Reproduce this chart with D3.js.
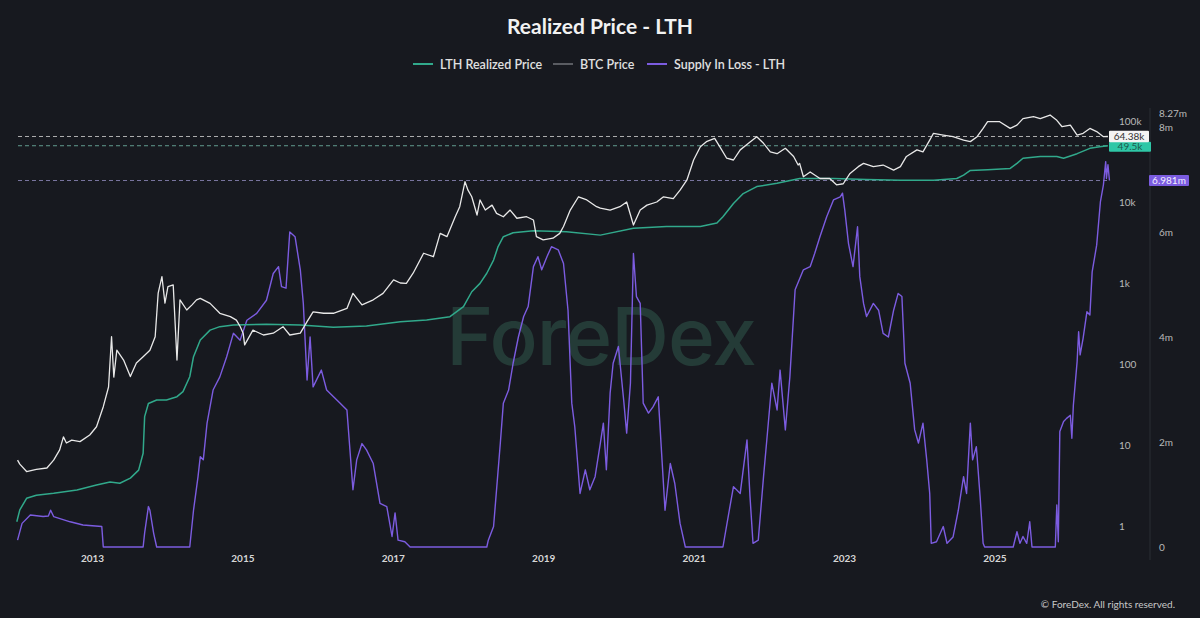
<!DOCTYPE html>
<html><head><meta charset="utf-8">
<script src="https://cdn.jsdelivr.net/npm/d3@7"></script>
<style>
html,body{margin:0;padding:0;background:#17191f;}
svg{display:block;font-family:Lato,Inter,"Noto Sans",sans-serif;}
</style>
</head><body>
<svg id="chart" width="1200" height="618"></svg>
<script>
// ---------- DATA (decimal year, value) ----------
const btcPrice = [[2012.01,6.5],[2012.04,5.8],[2012.13,4.7],[2012.26,5.0],[2012.40,5.2],[2012.49,6.5],[2012.57,8.7],[2012.62,12.6],[2012.66,10.6],[2012.73,11.5],[2012.84,11.0],[2012.97,13.3],[2013.06,16.8],[2013.15,29.7],[2013.22,52],[2013.26,217],[2013.29,69],[2013.33,148],[2013.42,112],[2013.51,70],[2013.59,103],[2013.68,123],[2013.77,148],[2013.84,217],[2013.88,750],[2013.93,1197],[2013.97,565],[2014.01,900],[2014.08,945],[2014.13,112],[2014.17,620],[2014.26,464],[2014.33,537],[2014.39,620],[2014.44,646],[2014.57,560],[2014.70,423],[2014.84,384],[2014.92,348],[2014.97,290],[2015.01,240],[2015.03,172],[2015.14,262],[2015.28,228],[2015.41,240],[2015.54,289],[2015.63,228],[2015.77,240],[2015.86,333],[2015.94,440],[2016.08,423],[2016.21,423],[2016.39,485],[2016.47,745],[2016.59,537],[2016.74,620],[2016.87,745],[2017.01,1090],[2017.10,1000],[2017.18,990],[2017.27,1320],[2017.41,2330],[2017.54,2110],[2017.63,4100],[2017.72,3730],[2017.83,6580],[2017.89,8750],[2017.96,17800],[2018.00,14000],[2018.05,11600],[2018.12,6900],[2018.16,10600],[2018.23,7950],[2018.32,9150],[2018.38,7250],[2018.47,6580],[2018.56,7950],[2018.65,6300],[2018.78,6580],[2018.87,6000],[2018.91,3730],[2019.00,3400],[2019.13,3570],[2019.22,4100],[2019.27,4980],[2019.36,7950],[2019.47,11600],[2019.58,10600],[2019.71,8750],[2019.76,8380],[2019.89,7950],[2020.02,8750],[2020.11,10000],[2020.20,5200],[2020.29,7950],[2020.38,9150],[2020.51,10000],[2020.60,11600],[2020.73,11000],[2020.82,14000],[2020.91,18600],[2021.00,33000],[2021.09,48000],[2021.17,55600],[2021.28,61000],[2021.35,48000],[2021.44,34700],[2021.53,33000],[2021.62,44000],[2021.73,53000],[2021.84,64000],[2021.93,53000],[2022.02,41500],[2022.11,39500],[2022.22,46000],[2022.33,36500],[2022.39,28600],[2022.41,30000],[2022.46,20500],[2022.55,23500],[2022.68,19500],[2022.81,19500],[2022.90,16300],[2022.99,16800],[2023.08,22500],[2023.19,27300],[2023.26,30000],[2023.39,27300],[2023.52,28600],[2023.66,24800],[2023.75,27300],[2023.83,36500],[2023.97,44000],[2024.05,41500],[2024.14,58000],[2024.19,70500],[2024.32,67000],[2024.45,64000],[2024.59,58000],[2024.68,55600],[2024.77,64000],[2024.85,81000],[2024.91,98000],[2025.03,98000],[2025.07,98000],[2025.21,81000],[2025.30,89000],[2025.38,107000],[2025.52,113000],[2025.61,107000],[2025.74,118500],[2025.83,102000],[2025.90,85000],[2026.01,89000],[2026.10,67000],[2026.18,70500],[2026.27,81000],[2026.36,74000],[2026.45,64000],[2026.51,64380]];

const lthRealizedPrice = [[2012.00,1.13],[2012.04,1.58],[2012.13,2.2],[2012.26,2.4],[2012.49,2.53],[2012.80,2.78],[2013.06,3.2],[2013.24,3.5],[2013.37,3.37],[2013.51,3.9],[2013.62,4.9],[2013.68,7.9],[2013.70,22.4],[2013.75,32.5],[2013.86,36],[2013.99,36],[2014.13,39.5],[2014.21,45.6],[2014.30,69.6],[2014.35,123],[2014.44,198],[2014.57,262],[2014.70,289],[2014.88,303],[2015.32,310],[2015.77,303],[2016.21,285],[2016.65,295],[2017.10,333],[2017.45,350],[2017.76,384],[2017.94,510],[2018.05,780],[2018.16,990],[2018.25,1320],[2018.34,1920],[2018.40,2820],[2018.47,3730],[2018.60,4170],[2018.87,4420],[2019.31,4300],[2019.76,3900],[2020.20,4730],[2020.64,4980],[2021.09,4980],[2021.31,5490],[2021.39,6580],[2021.53,9600],[2021.66,12700],[2021.84,15500],[2022.11,17000],[2022.41,19500],[2022.86,19500],[2023.30,19000],[2023.75,18600],[2024.19,18600],[2024.50,19500],[2024.59,21500],[2024.68,24500],[2024.91,25000],[2025.21,26000],[2025.30,30000],[2025.38,34700],[2025.61,36500],[2025.83,36500],[2025.92,34700],[2026.10,39500],[2026.27,46000],[2026.40,48000],[2026.51,49500]];

// supply in loss, millions of BTC
const supplyInLoss = [[2012.01,0.13],[2012.07,0.45],[2012.18,0.61],[2012.35,0.58],[2012.42,0.59],[2012.45,0.70],[2012.49,0.58],[2012.71,0.48],[2012.88,0.42],[2013.13,0.39],[2013.15,0],[2013.68,0],[2013.70,0.27],[2013.75,0.77],[2013.77,0.70],[2013.82,0.26],[2013.86,0],[2014.30,0],[2014.35,0.70],[2014.41,1.34],[2014.44,1.72],[2014.48,1.66],[2014.53,2.36],[2014.61,2.99],[2014.70,3.24],[2014.79,3.62],[2014.88,4.07],[2014.97,3.94],[2015.06,4.32],[2015.19,4.45],[2015.32,4.70],[2015.41,5.21],[2015.48,5.34],[2015.52,4.96],[2015.58,4.93],[2015.63,6.0],[2015.70,5.91],[2015.77,5.28],[2015.81,4.64],[2015.86,3.18],[2015.90,4.0],[2015.94,3.05],[2016.05,3.37],[2016.12,2.99],[2016.30,2.74],[2016.39,2.61],[2016.47,1.09],[2016.52,1.66],[2016.59,1.97],[2016.65,1.85],[2016.74,1.59],[2016.83,0.83],[2016.92,0.77],[2016.99,0.2],[2017.03,0.65],[2017.07,0.13],[2017.16,0.1],[2017.23,0],[2018.25,0],[2018.27,0.13],[2018.34,0.39],[2018.43,1.98],[2018.47,2.74],[2018.54,2.99],[2018.60,3.5],[2018.67,4.0],[2018.74,4.39],[2018.80,4.58],[2018.87,5.34],[2018.93,5.53],[2018.98,5.28],[2019.05,5.53],[2019.11,5.72],[2019.20,5.66],[2019.27,5.40],[2019.33,4.51],[2019.38,2.74],[2019.42,2.29],[2019.49,1.02],[2019.56,1.47],[2019.62,1.09],[2019.69,1.34],[2019.76,1.98],[2019.80,2.36],[2019.84,1.47],[2019.89,2.93],[2019.93,3.5],[2020.00,3.82],[2020.07,2.8],[2020.11,2.17],[2020.16,3.12],[2020.20,5.59],[2020.24,4.77],[2020.29,4.64],[2020.33,2.74],[2020.40,2.55],[2020.46,2.67],[2020.53,2.86],[2020.58,1.66],[2020.62,0.70],[2020.69,1.59],[2020.75,1.21],[2020.82,0.45],[2020.89,0],[2021.39,0],[2021.46,0.58],[2021.53,1.15],[2021.62,1.02],[2021.71,2.04],[2021.75,0.96],[2021.79,0.07],[2021.86,0.13],[2021.93,1.34],[2021.97,1.98],[2022.04,3.12],[2022.11,2.61],[2022.15,3.37],[2022.22,2.23],[2022.28,3.24],[2022.35,4.9],[2022.46,5.28],[2022.55,5.34],[2022.61,5.59],[2022.68,5.91],[2022.77,6.29],[2022.86,6.61],[2022.95,6.67],[2022.98,6.74],[2023.01,6.42],[2023.06,5.78],[2023.12,5.34],[2023.18,6.1],[2023.21,5.15],[2023.26,4.64],[2023.30,4.39],[2023.39,4.64],[2023.46,4.51],[2023.52,4.07],[2023.59,4.0],[2023.66,4.51],[2023.72,4.83],[2023.77,4.77],[2023.81,3.5],[2023.88,3.12],[2023.94,2.23],[2023.99,1.98],[2024.05,2.36],[2024.10,1.66],[2024.14,1.02],[2024.16,0.07],[2024.23,0.1],[2024.32,0.39],[2024.37,0.07],[2024.45,0.19],[2024.52,0.70],[2024.59,1.34],[2024.63,1.02],[2024.68,2.36],[2024.71,1.66],[2024.76,1.91],[2024.81,0.96],[2024.85,0.07],[2024.87,0],[2025.25,0],[2025.30,0.29],[2025.34,0.07],[2025.38,0.2],[2025.43,0.07],[2025.47,0.48],[2025.50,0],[2025.81,0],[2025.83,0.8],[2025.85,0.1],[2025.87,2.2],[2025.92,2.39],[2025.96,2.45],[2026.01,2.51],[2026.03,2.07],[2026.05,2.7],[2026.10,3.53],[2026.12,4.1],[2026.14,3.66],[2026.18,3.98],[2026.23,4.48],[2026.27,4.42],[2026.30,5.24],[2026.36,5.75],[2026.41,6.58],[2026.45,6.9],[2026.48,7.34],[2026.49,7.02],[2026.51,7.28],[2026.53,6.981]];

const xTickYears = [2013, 2015, 2017, 2019, 2021, 2023, 2025];
const priceTicks = [1, 10, 100, 1000, 10000, 100000];
const priceTickLabels = ["1", "10", "100", "1k", "10k", "100k"];
const supplyTicks = [0, 2, 4, 6, 8, 8.27];
const supplyTickLabels = ["0", "2m", "4m", "6m", "8m", "8.27m"];
const lastBtcLabel = "64.38k";
const lastLthLabel = "49.5k";
const lastLossLabel = "6.981m";
const legendNames = ["LTH Realized Price", "BTC Price", "Supply In Loss - LTH"];
const titleText = "Realized Price - LTH";

// ---------- DRAW ----------
const svg = d3.select("#chart");
const C = {btc:"#e8e8e8", lth:"#31a98b", loss:"#7c5ce0", bg:"#17191f"};

svg.append("rect").attr("width",1200).attr("height",618).attr("fill",C.bg);

const x = d3.scaleLinear().domain([2012, 2026.5]).range([16.8, 16.8 + 14.5*75.2]);
const yP = d3.scaleLog().domain([1, 100000]).range([526, 121]);
const yS = d3.scaleLinear().domain([0, 8]).range([547, 127]);

// watermark
svg.append("text").attr("x",601).attr("y",365).attr("text-anchor","middle")
  .attr("font-family","Inter, 'Noto Sans', sans-serif").attr("font-weight",500)
  .attr("font-size",80).attr("fill","#243b37").attr("letter-spacing","-1")
  .text("ForeDex");

// title
svg.append("text").attr("x",600).attr("y",34).attr("text-anchor","middle")
  .attr("font-size",21).attr("font-weight",700).attr("fill","#f2f2f2").text(titleText);

// legend
const legendX = [413, 553, 647];
const legendColors = [C.lth, "#5a5c62", C.loss];
legendNames.forEach((n,i)=>{
  svg.append("line").attr("x1",legendX[i]).attr("x2",legendX[i]+20).attr("y1",64).attr("y2",64)
    .attr("stroke",legendColors[i]).attr("stroke-width",2);
  svg.append("text").attr("x",legendX[i]+27).attr("y",68.5).attr("font-size",12.5)
    .attr("font-weight",600).attr("fill","#e0e0e0").text(n);
});

// right axis separator
svg.append("line").attr("x1",1150).attr("x2",1150).attr("y1",108).attr("y2",560)
  .attr("stroke","#2b2e35").attr("stroke-width",1);

// x axis
const gx = svg.append("g").attr("transform","translate(0,547)")
  .call(d3.axisBottom(x).tickValues(xTickYears).tickFormat(d3.format("d")).tickSize(0).tickPadding(8));
gx.select(".domain").remove();
gx.selectAll("text").attr("fill","#d6d6d6").attr("font-size",10).attr("font-weight",700)
  .attr("font-family","Lato, Inter, sans-serif");

// price axis
const gp = svg.append("g").attr("transform","translate(1119,0)")
  .call(d3.axisRight(yP).tickValues(priceTicks).tickFormat((d,i)=>priceTickLabels[i]).tickSize(0).tickPadding(0));
gp.select(".domain").remove();
gp.selectAll("text").attr("fill","#b9b9b9").attr("font-size",10).attr("font-family","Lato, Inter, sans-serif");

// supply axis
const gs = svg.append("g").attr("transform","translate(1159,0)")
  .call(d3.axisRight(yS).tickValues(supplyTicks).tickFormat((d,i)=>supplyTickLabels[i]).tickSize(0).tickPadding(0));
gs.select(".domain").remove();
gs.selectAll("text").attr("fill","#b9b9b9").attr("font-size",10).attr("font-family","Lato, Inter, sans-serif");

// dashed reference lines
const lastBtc = btcPrice[btcPrice.length-1][1];
const lastLth = lthRealizedPrice[lthRealizedPrice.length-1][1];
const lastLoss = supplyInLoss[supplyInLoss.length-1][1];
[[yP(lastBtc),"#c9c9c9"],[yP(lastLth),"#6fb3a3"],[yS(lastLoss),"#8c86b8"]].forEach(([yy,col])=>{
  svg.append("line").attr("x1",18).attr("x2",1108).attr("y1",yy).attr("y2",yy)
    .attr("stroke",col).attr("stroke-width",1).attr("stroke-dasharray","4,3").attr("opacity",0.85);
});

// series
const lineP = d3.line().x(d=>x(d[0])).y(d=>yP(d[1]));
const lineS = d3.line().x(d=>x(d[0])).y(d=>yS(d[1]));
svg.append("path").datum(supplyInLoss).attr("d",lineS).attr("fill","none")
  .attr("stroke",C.loss).attr("stroke-width",1.4).attr("stroke-linejoin","round");
svg.append("path").datum(lthRealizedPrice).attr("d",lineP).attr("fill","none")
  .attr("stroke",C.lth).attr("stroke-width",1.5).attr("stroke-linejoin","round");
svg.append("path").datum(btcPrice).attr("d",lineP).attr("fill","none")
  .attr("stroke",C.btc).attr("stroke-width",1.3).attr("stroke-linejoin","round");

// end labels
function tag(xl, yc, w, h, fill, txtCol, txt){
  svg.append("rect").attr("x",xl).attr("y",yc-h/2).attr("width",w).attr("height",h).attr("fill",fill).attr("rx",1);
  svg.append("text").attr("x",xl+w/2).attr("y",yc+3.5).attr("text-anchor","middle")
    .attr("font-size",10).attr("fill",txtCol).attr("font-family","Lato, Inter, sans-serif").text(txt);
}
tag(1109, yP(lastLth)+1, 42, 10, "#2fc7a7", "#1c5a4c", lastLthLabel);
tag(1109, yP(lastBtc), 40, 11.5, "#f4f4f4", "#333", lastBtcLabel);
tag(1149, yS(lastLoss), 40, 11, "#7b5ce0", "#f4f0ff", lastLossLabel);

// copyright
svg.append("text").attr("x",1175).attr("y",608).attr("text-anchor","end")
  .attr("font-size",10).attr("fill","#c8c8c8").text("\u00A9 ForeDex. All rights reserved.");
</script>
</body></html>
